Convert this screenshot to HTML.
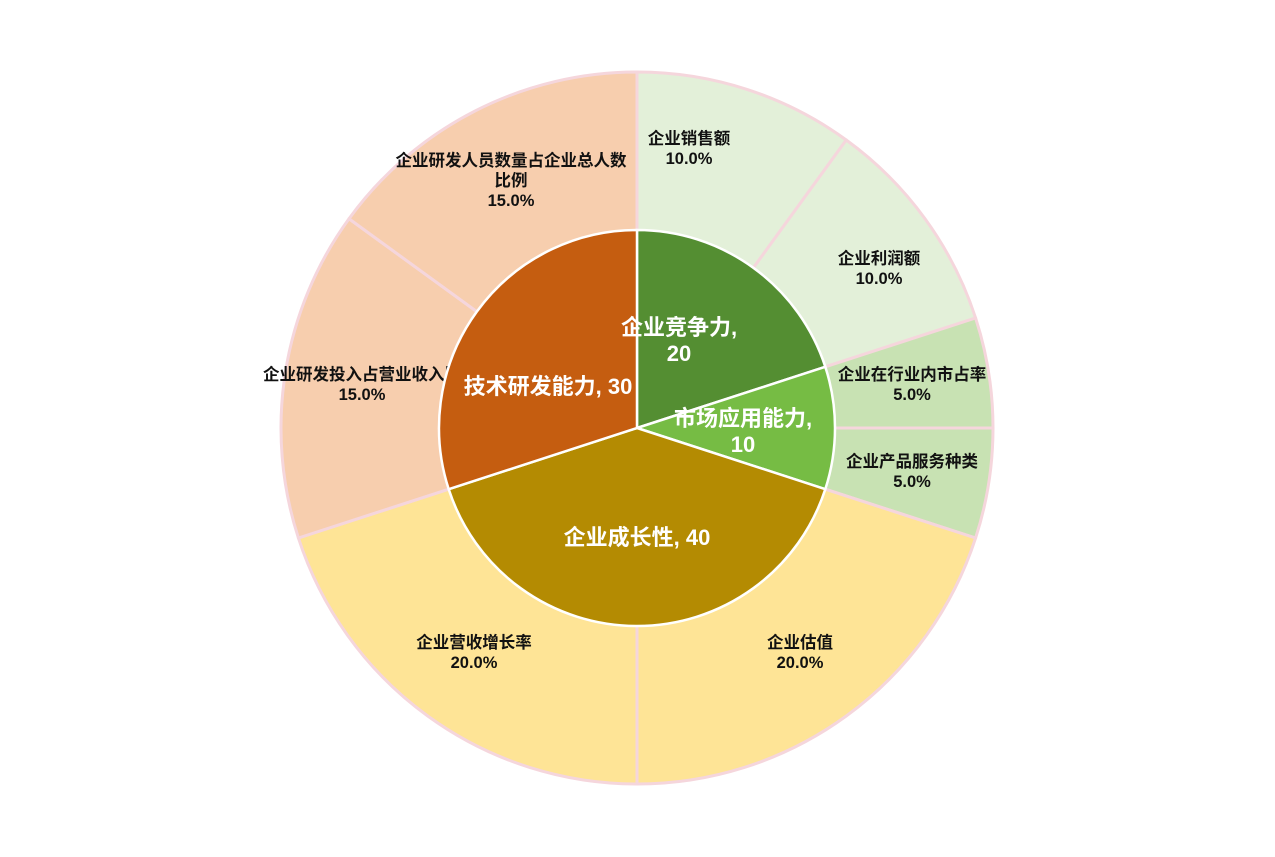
<!DOCTYPE html>
<html><head><meta charset="utf-8"><style>
html,body{margin:0;padding:0;background:#fff;width:1275px;height:857px;overflow:hidden}
svg{display:block}
text{font-family:"Liberation Sans","Noto Sans CJK SC",sans-serif;font-weight:bold;text-anchor:middle}
.o{font-size:16.5px;fill:#111}
.i{font-size:22px;fill:#fff}
</style></head><body>
<svg id="s" width="1275" height="857" viewBox="0 0 1275 857">
<g id="outer"></g>
<g>
<text class="o" x="689" y="144">企业销售额</text><text class="o" x="689" y="164">10.0%</text>
<text class="o" x="879" y="264">企业利润额</text><text class="o" x="879" y="284">10.0%</text>
<text class="o" x="912" y="380">企业在行业内市占率</text><text class="o" x="912" y="400">5.0%</text>
<text class="o" x="912" y="467">企业产品服务种类</text><text class="o" x="912" y="487">5.0%</text>
<text class="o" x="800" y="648">企业估值</text><text class="o" x="800" y="668">20.0%</text>
<text class="o" x="474" y="648">企业营收增长率</text><text class="o" x="474" y="668">20.0%</text>
<text class="o" x="362" y="380">企业研发投入占营业收入比</text><text class="o" x="362" y="400">15.0%</text>
<text class="o" x="511" y="166">企业研发人员数量占企业总人数</text><text class="o" x="511" y="186">比例</text><text class="o" x="511" y="206">15.0%</text>
</g>
<g id="inner"></g>
<g>
<text class="i" x="679" y="335">企业竞争力,</text><text class="i" x="679" y="361">20</text>
<text class="i" x="743" y="426">市场应用能力,</text><text class="i" x="743" y="452">10</text>
<text class="i" x="637" y="545">企业成长性, 40</text>
<text class="i" x="548" y="394">技术研发能力, 30</text>
</g>
</svg>
<script>
var cx=637,cy=428;
function pt(r,a){a=a*Math.PI/180;return [cx+r*Math.sin(a),cy-r*Math.cos(a)];}
function wedge(r,a0,a1,fill,stroke,sw){
 var p0=pt(r,a0),p1=pt(r,a1),lg=(a1-a0)>180?1:0;
 return '<path d="M'+cx+','+cy+' L'+p0[0].toFixed(2)+','+p0[1].toFixed(2)+' A'+r+','+r+' 0 '+lg+' 1 '+p1[0].toFixed(2)+','+p1[1].toFixed(2)+' Z" fill="'+fill+'" stroke="'+stroke+'" stroke-width="'+sw+'" stroke-linejoin="round"/>';
}
var outer=[[0,36,'#e3f0d9'],[36,72,'#e3f0d9'],[72,90,'#c8e2b3'],[90,108,'#c8e2b3'],[108,180,'#fee496'],[180,252,'#fee496'],[252,306,'#f7ceae'],[306,360,'#f7ceae']];
var h='';outer.forEach(function(o){h+=wedge(356,o[0],o[1],o[2],'#f5d6dc',3);});
document.getElementById('outer').innerHTML=h;
var inner=[[0,72,'#548e32'],[72,108,'#76bc44'],[108,252,'#b48b02'],[252,360,'#c55d10']];
h='';inner.forEach(function(o){h+=wedge(198,o[0],o[1],o[2],'#ffffff',2.5);});
document.getElementById('inner').innerHTML=h;
</script>
</body></html>
